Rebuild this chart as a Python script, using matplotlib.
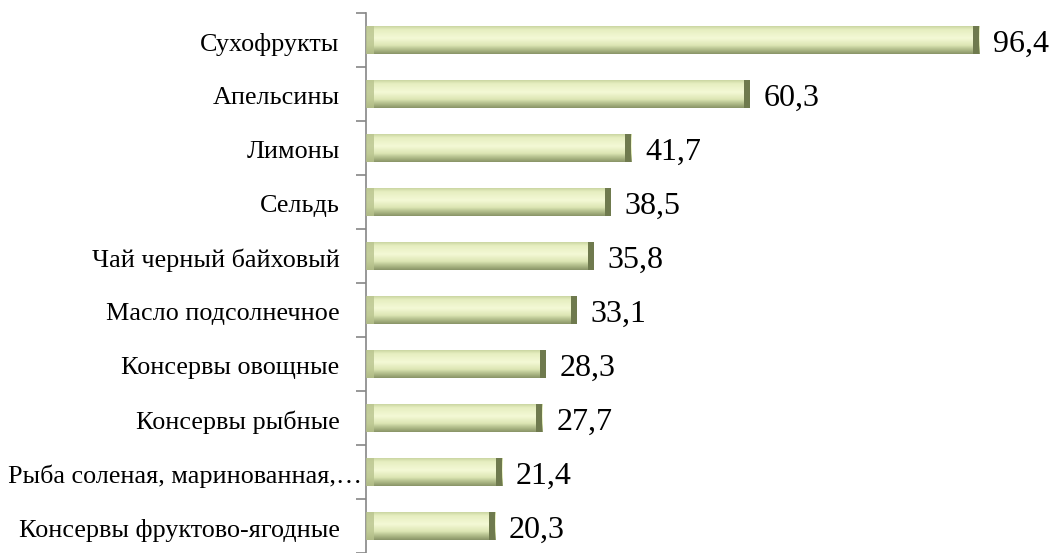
import numpy as np
import matplotlib.pyplot as plt
from matplotlib.colors import LinearSegmentedColormap

categories = ["Сухофрукты", "Апельсины", "Лимоны", "Сельдь", "Чай черный байховый",
              "Масло подсолнечное", "Консервы овощные", "Консервы рыбные",
              "Рыба соленая, маринованная,…", "Консервы фруктово-ягодные"]
values = [96.4, 60.3, 41.7, 38.5, 35.8, 33.1, 28.3, 27.7, 21.4, 20.3]
value_labels = ["96,4", "60,3", "41,7", "38,5", "35,8", "33,1", "28,3", "27,7", "21,4", "20,3"]


def main():
    plt.rcParams['font.family'] = ['Liberation Serif', 'DejaVu Serif']
    fig = plt.figure(figsize=(10.55, 5.53), dpi=100)
    ax = fig.add_axes([366 / 1055, 0, 684 / 1055, 540 / 553])

    y = np.arange(len(categories))
    bars = ax.barh(y, values, height=0.52, color='#dfe8b8', edgecolor='none')

    # vertical shading of the cylinder-like bars
    cmap = LinearSegmentedColormap.from_list('bar', [
        (0.0, '#c4d09a'), (0.15, '#e6eec0'), (0.45, '#f4f9d6'),
        (0.7, '#dde6b4'), (0.88, '#a9b583'), (1.0, '#8a9568')])
    grad = np.linspace(0, 1, 64).reshape(-1, 1)
    for b in bars:
        x0, y0, w, h = b.get_x(), b.get_y(), b.get_width(), b.get_height()
        im = ax.imshow(grad, cmap=cmap, aspect='auto', extent=(x0, x0 + w, y0 + h, y0),
                       zorder=2, interpolation='bilinear')
        im.set_clip_path(b)
        # dark bevel at right end
        ax.fill_between([x0 + w - 0.9, x0 + w], y0, y0 + h, color='#6f7a4e', zorder=3, lw=0)
        ax.fill_between([x0, x0 + 1.2], y0, y0 + h, color='#b9c48e', zorder=3, lw=0, alpha=0.8)

    for yi, v, lab in zip(y, values, value_labels):
        ax.annotate(lab, xy=(v + 2.2, yi), xytext=(0, -3), textcoords='offset points',
                    va='center', ha='left', fontsize=23)

    # category labels, right-aligned left of the axis; the truncated one runs into it
    for yi, cat in zip(y, categories):
        off = -3 if cat.endswith('…') else -19
        ax.annotate(cat, xy=(0, yi), xycoords=('axes fraction', 'data'),
                    xytext=(off, -3), textcoords='offset points',
                    ha='right', va='center', fontsize=18.8, annotation_clip=False)

    ax.set_xlim(0, 684 / 6.36)
    ax.set_ylim(len(categories) - 0.5, -0.5)
    ax.set_yticks(y)
    ax.set_yticklabels([])
    ax.tick_params(axis='y', which='major', length=0)
    ax.set_yticks(np.arange(-0.5, len(categories), 1), minor=True)
    ax.tick_params(axis='y', which='minor', length=7, color='#868686', width=1.2)
    ax.set_xticks([])
    for s in ['top', 'right', 'bottom']:
        ax.spines[s].set_visible(False)
    ax.spines['left'].set_color('#868686')
    ax.spines['left'].set_linewidth(1.2)

    fig.savefig('out.png', dpi=100)


if __name__ == "__main__":
    main()
